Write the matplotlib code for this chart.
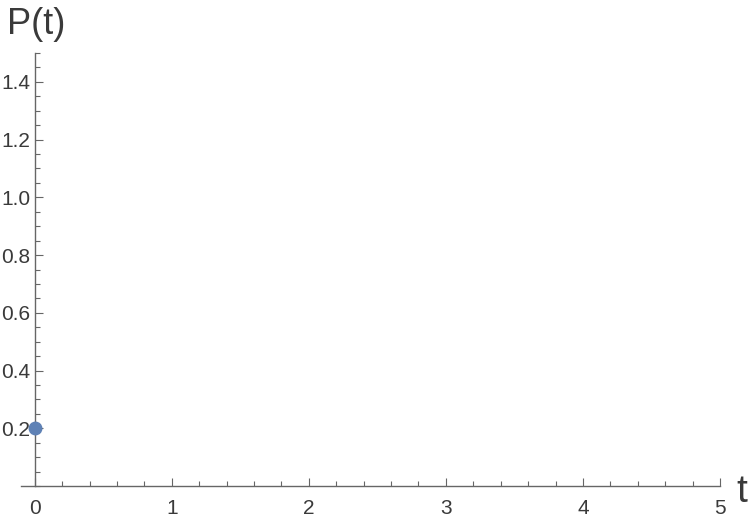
import numpy as np
import matplotlib.pyplot as plt
from matplotlib.ticker import MultipleLocator, FixedLocator

t = [0.0]
p = [0.2]
xticks = [0, 1, 2, 3, 4, 5]
yticks = [0.2, 0.4, 0.6, 0.8, 1.0, 1.2, 1.4]

plt.rcParams['font.family'] = ['Liberation Sans', 'DejaVu Sans']

fig = plt.figure(figsize=(7.5, 5.19), dpi=100)
ax = fig.add_axes([21 / 750, 33 / 519, 699 / 750, 433 / 519])

ax.plot(t, p, 'o', color='#5E81B5', markersize=9, clip_on=False, zorder=5)

ax.set_xlim(-0.1, 5)
ax.set_ylim(0, 1.5)

for s in ['top', 'right']:
    ax.spines[s].set_visible(False)
ax.spines['left'].set_position(('data', 0))
ax.spines['bottom'].set_position(('data', 0))
for s in ['left', 'bottom']:
    ax.spines[s].set_color('#666666')
    ax.spines[s].set_linewidth(1.0)

ax.xaxis.set_major_locator(FixedLocator(xticks))
ax.xaxis.set_minor_locator(MultipleLocator(0.2))
ax.yaxis.set_major_locator(FixedLocator(yticks))
ax.yaxis.set_minor_locator(MultipleLocator(0.05))
ax.set_yticklabels(['%.1f' % v for v in yticks])

ax.tick_params(which='both', direction='in', color='#666666', width=0.8,
               labelsize=15, labelcolor='#3a3a3a')
ax.tick_params(which='major', length=6)
ax.tick_params(which='minor', length=3.5)
ax.tick_params(axis='x', pad=9)
ax.tick_params(axis='y', pad=3)

fig.text(7 / 750, 1 - 34 / 519, 'P(t)', fontsize=26, color='#3a3a3a', va='baseline')
fig.text(736 / 750, 1 - 502 / 519, 't', fontsize=28, color='#3a3a3a', va='baseline')

fig.savefig('out.png', dpi=100)
